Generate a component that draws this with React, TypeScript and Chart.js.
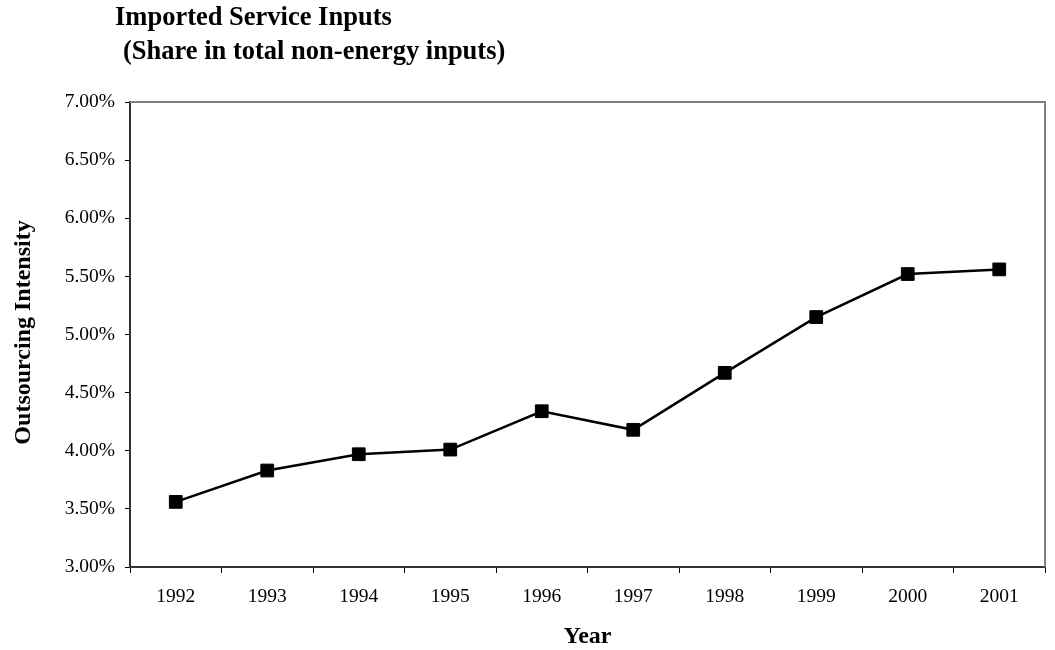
import React, { useEffect, useRef } from "react";
import { Chart, registerables } from "chart.js";

Chart.register(...registerables);

const years = ["1992", "1993", "1994", "1995", "1996", "1997", "1998", "1999", "2000", "2001"];
const intensity = [3.56, 3.83, 3.97, 4.01, 4.34, 4.18, 4.67, 5.15, 5.52, 5.56];
const titleLine1 = "Imported Service Inputs";
const titleLine2 = "(Share in total non-energy inputs)";
const yTitle = "Outsourcing Intensity";
const xTitle = "Year";

const SERIF = "'Liberation Serif', 'Times New Roman', serif";

const decorPlugin = {
  id: "decor",
  beforeDatasetsDraw(chart: any) {
    const { ctx, chartArea } = chart;
    ctx.save();
    ctx.strokeStyle = "#808080";
    ctx.lineWidth = 2;
    ctx.beginPath();
    ctx.moveTo(chartArea.left, chartArea.top);
    ctx.lineTo(chartArea.right, chartArea.top);
    ctx.lineTo(chartArea.right, chartArea.bottom);
    ctx.stroke();
    ctx.restore();
  },
  afterDraw(chart: any) {
    const { ctx, chartArea } = chart;
    ctx.save();
    ctx.fillStyle = "#000";
    ctx.font = `bold 26.5px ${SERIF}`;
    ctx.textAlign = "left";
    ctx.textBaseline = "alphabetic";
    ctx.fillText(titleLine1, 115, 25);
    ctx.fillText(titleLine2, 123, 59);

    ctx.font = `bold 24px ${SERIF}`;
    ctx.textAlign = "center";
    ctx.fillText(xTitle, (chartArea.left + chartArea.right) / 2, 643);

    ctx.translate(30, (chartArea.top + chartArea.bottom) / 2 - 2);
    ctx.rotate(-Math.PI / 2);
    ctx.fillText(yTitle, 0, 0);
    ctx.restore();
  },
};

export default function App() {
  const ref = useRef<HTMLCanvasElement | null>(null);
  useEffect(() => {
    if (!ref.current) return;
    const chart = new Chart(ref.current, {
      type: "line",
      data: {
        labels: years,
        datasets: [
          {
            data: intensity,
            borderColor: "#000",
            borderWidth: 2.5,
            backgroundColor: "#000",
            pointStyle: "rect",
            pointRadius: 9,
            pointBorderWidth: 1,
            pointBorderColor: "#000",
            pointBackgroundColor: "#000",
            tension: 0,
          },
        ],
      },
      options: {
        animation: false,
        responsive: false,
        devicePixelRatio: 1,
        layout: { padding: { top: 102, right: 1, left: 0, bottom: 0 } },
        plugins: {
          legend: { display: false },
          title: { display: false },
          tooltip: { enabled: false },
        },
        scales: {
          x: {
            type: "category",
            offset: true,
            afterFit: (scale: any) => {
              scale.height = 83;
            },
            border: { color: "#333", width: 2 },
            grid: {
              display: true,
              offset: true,
              drawOnChartArea: false,
              drawTicks: true,
              tickLength: 6,
              color: "#000",
              lineWidth: 1,
            },
            ticks: {
              color: "#000",
              font: { family: SERIF, size: 19.5 },
              padding: 12,
              maxRotation: 0,
            },
          },
          y: {
            min: 3,
            max: 7,
            afterFit: (scale: any) => {
              scale.width = 130;
            },
            border: { color: "#333", width: 2 },
            grid: {
              display: true,
              drawOnChartArea: false,
              drawTicks: true,
              tickLength: 5,
              color: "#000",
              lineWidth: 1,
            },
            ticks: {
              stepSize: 0.5,
              color: "#000",
              font: { family: SERIF, size: 19.5 },
              padding: 10,
              callback: (v: any) => Number(v).toFixed(2) + "%",
            },
          },
        },
      },
      plugins: [decorPlugin],
    });
    return () => chart.destroy();
  }, []);
  return (
    <div style={{ position: "absolute", left: 0, top: 0, width: 1055, height: 650, background: "#fff" }}>
      <canvas ref={ref} width={1055} height={650} />
    </div>
  );
}
